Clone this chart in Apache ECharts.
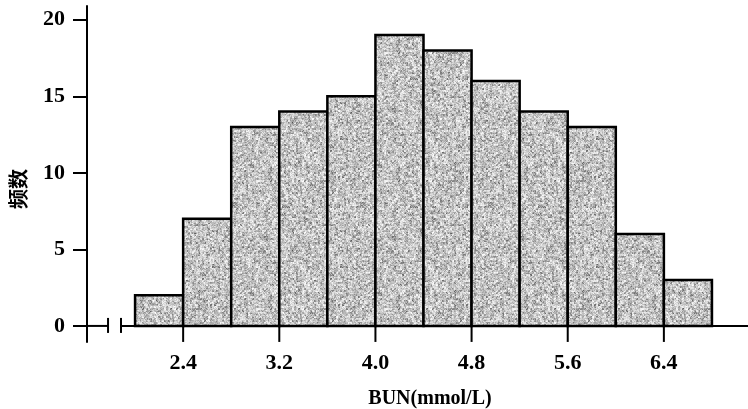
<!DOCTYPE html>
<html>
<head>
<meta charset="utf-8">
<script src="https://cdn.jsdelivr.net/npm/echarts@6/dist/echarts.min.js"></script>
<style>
  html, body { margin: 0; padding: 0; background: #fff; }
  #chart { width: 748px; height: 409px; }
</style>
</head>
<body>
<div id="chart"></div>
<script>
// Histogram of BUN (mmol/L), bin width 0.4
var binStarts = [2.0, 2.4, 2.8, 3.2, 3.6, 4.0, 4.4, 4.8, 5.2, 5.6, 6.0, 6.4];
var binWidth = 0.4;
var counts = [2, 7, 13, 14, 15, 19, 18, 16, 14, 13, 6, 3];
var xTicks = [2.4, 3.2, 4.0, 4.8, 5.6, 6.4];
var yTicks = [0, 5, 10, 15, 20];
// x-axis drawn in two pieces around the scale break
var axisPieces = [[1.6, 1.775], [1.883, 7.1]];

var SERIF = '"Liberation Serif", "DejaVu Serif", serif';

function hash(x, y) {
  var h = (x * 374761393 + y * 668265263) | 0;
  h = Math.imul(h ^ (h >>> 13), 1274126177);
  h = h ^ (h >>> 16);
  return (h >>> 0) / 4294967296;
}

// grainy grey fill for the bars (deterministic hash dither, mottled)
function makeStipple() {
  var size = 128;
  var c = document.createElement('canvas');
  c.width = size; c.height = size;
  var ctx = c.getContext('2d');
  var img = ctx.createImageData(size, size);
  for (var y = 0; y < size; y++) {
    for (var x = 0; x < size; x++) {
      var coarse = hash((x >> 1) + 977, (y >> 1) + 311);
      var fine = hash(x, y);
      var t = 0.55 * coarse + 0.45 * fine;
      var v = Math.round(80 + 175 * Math.pow(t, 0.6));
      if (v > 255) v = 255;
      var i = (y * size + x) * 4;
      img.data[i] = v; img.data[i + 1] = v; img.data[i + 2] = v; img.data[i + 3] = 255;
    }
  }
  ctx.putImageData(img, 0, 0);
  return c;
}
var stipple = makeStipple();

var barData = binStarts.map(function (s, i) { return [s, s + binWidth, counts[i]]; });

var chart = echarts.init(document.getElementById('chart'), null, { renderer: 'canvas' });
chart.setOption({
  animation: false,
  backgroundColor: '#fff',
  grid: { left: 87, right: 0, top: 6, bottom: 409 - 342 },
  title: {
    text: 'BUN(mmol/L)',
    left: 425, top: 384,
    textAlign: 'center',
    textStyle: { fontFamily: SERIF, fontWeight: 'bold', fontSize: 20, color: '#000' }
  },
  graphic: [{
    type: 'text',
    x: 18, y: 189,
    rotation: Math.PI / 2,
    style: {
      text: '频数',
      font: 'bold 20px "Noto Sans CJK SC", sans-serif',
      fill: '#000',
      align: 'center',
      verticalAlign: 'middle'
    }
  }],
  xAxis: {
    type: 'value',
    min: 1.6, max: 7.1,
    splitLine: { show: false },
    axisLine: { show: false },
    axisTick: { show: false },
    axisLabel: {
      customValues: xTicks,
      formatter: function (v) { return v.toFixed(1); },
      margin: 10,
      fontFamily: SERIF, fontWeight: 'bold', fontSize: 22, color: '#000'
    }
  },
  yAxis: {
    type: 'value',
    min: -1.05, max: 20.9,
    splitLine: { show: false },
    axisLine: { show: true, lineStyle: { color: '#000', width: 2 } },
    axisTick: { show: true, customValues: yTicks, length: 14, lineStyle: { color: '#000', width: 2 } },
    axisLabel: {
      customValues: yTicks,
      margin: 22,
      fontFamily: SERIF, fontWeight: 'bold', fontSize: 22, color: '#000'
    }
  },
  series: [
    {
      type: 'custom',
      name: 'bars',
      clip: false,
      data: barData,
      encode: { x: [0, 1], y: 2 },
      renderItem: function (params, api) {
        var p0 = api.coord([api.value(0), api.value(2)]);
        var p1 = api.coord([api.value(1), 0]);
        return {
          type: 'rect',
          shape: { x: p0[0], y: p0[1], width: p1[0] - p0[0], height: p1[1] - p0[1] },
          style: {
            fill: { image: stipple, repeat: 'repeat' },
            stroke: '#000',
            lineWidth: 2.5
          }
        };
      }
    },
    {
      type: 'custom',
      name: 'xaxis',
      clip: false,
      silent: true,
      data: axisPieces,
      encode: { x: [0, 1] },
      renderItem: function (params, api) {
        var a = api.coord([api.value(0), 0]);
        var b = api.coord([api.value(1), 0]);
        var children = [{
          type: 'line',
          shape: { x1: a[0], y1: a[1], x2: b[0], y2: b[1] },
          style: { stroke: '#000', lineWidth: 2 }
        }];
        // break marks at the inner ends of the two pieces
        var mark = params.dataIndex === 0 ? b : a;
        children.push({
          type: 'line',
          shape: { x1: mark[0], y1: mark[1] - 8, x2: mark[0], y2: mark[1] + 7 },
          style: { stroke: '#000', lineWidth: 2 }
        });
        return { type: 'group', children: children };
      }
    },
    {
      type: 'custom',
      name: 'xticks',
      clip: false,
      silent: true,
      data: xTicks,
      encode: { x: 0 },
      renderItem: function (params, api) {
        var p = api.coord([api.value(0), 0]);
        return {
          type: 'line',
          shape: { x1: p[0], y1: p[1], x2: p[0], y2: p[1] + 16 },
          style: { stroke: '#000', lineWidth: 2 }
        };
      }
    }
  ]
});
</script>
</body>
</html>
